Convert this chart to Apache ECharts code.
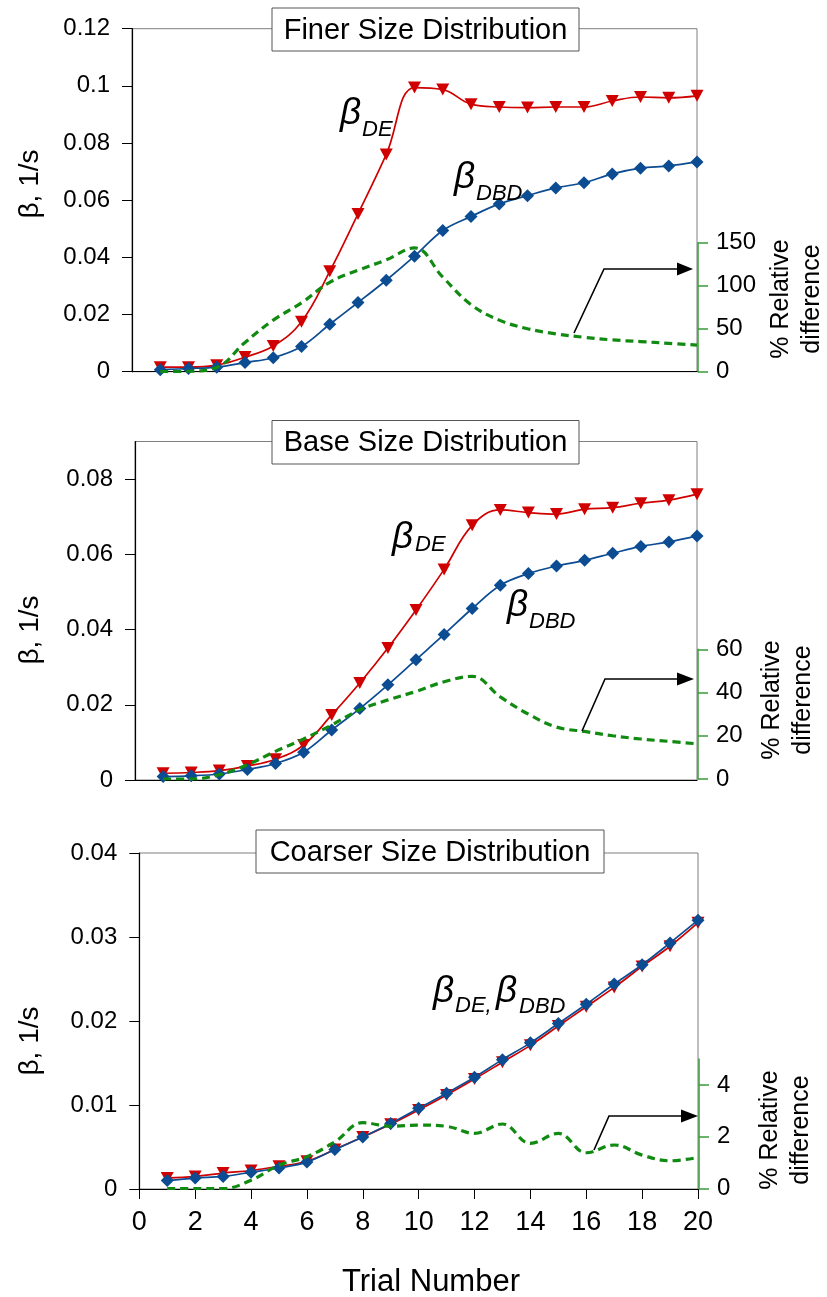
<!DOCTYPE html>
<html><head><meta charset="utf-8">
<script src="https://cdn.jsdelivr.net/npm/echarts@6/dist/echarts.min.js"></script>
<style>html,body{margin:0;padding:0;background:#fff}#c{width:827px;height:1297px}</style>
</head><body><div id="c"></div>
<script>
// ---------- data ----------
const trials = [1,2,3,4,5,6,7,8,9,10,11,12,13,14,15,16,17,18,19,20];
const xTickLabels = [0,2,4,6,8,10,12,14,16,18,20];

const finerDE  = [0.0016,0.0016,0.0023,0.0051,0.0090,0.0175,0.0351,0.0552,0.0760,0.0994,0.0987,0.0936,0.0926,0.0924,0.0926,0.0926,0.0947,0.0961,0.0958,0.0965];
const finerDBD = [0.0007,0.0011,0.0016,0.0032,0.0049,0.0088,0.0166,0.0242,0.0320,0.0404,0.0494,0.0543,0.0587,0.0616,0.0643,0.0661,0.0692,0.0712,0.0720,0.0734];
const finerDiff = [0,0.5,5,34,60,80,104,118,130,144,110,78,60,50,44,40,37,35,33,31];

const baseDE  = [0.0018,0.0020,0.0025,0.0037,0.0055,0.0093,0.0173,0.0258,0.0351,0.0452,0.0560,0.0677,0.0718,0.0711,0.0707,0.0720,0.0724,0.0736,0.0744,0.0760];
const baseDBD = [0.0009,0.0011,0.0016,0.0028,0.0044,0.0074,0.0133,0.0190,0.0253,0.0320,0.0387,0.0456,0.0518,0.0549,0.0569,0.0584,0.0603,0.0621,0.0633,0.0649];
const baseDiff = [0,0,2,6.6,12.8,18.5,25,32,36.6,40.5,45,47.5,38,30,24,22,20,18.5,17.4,16.3];

const coarserDE  = [0.0013,0.0015,0.0019,0.0022,0.0027,0.0033,0.0047,0.0062,0.0077,0.0094,0.0112,0.0131,0.0151,0.0171,0.0194,0.0217,0.0240,0.0265,0.0289,0.0317];
const coarserDBD = [0.0010,0.0013,0.0015,0.0020,0.0025,0.0032,0.0047,0.0062,0.0078,0.0096,0.0114,0.0133,0.0154,0.0174,0.0197,0.0220,0.0244,0.0267,0.0293,0.0320];
const coarserDiff = [0,0,0,0.32,0.9,1.23,1.8,2.54,2.4,2.45,2.4,2.13,2.49,1.74,2.13,1.38,1.68,1.29,1.07,1.2];

const finerLeftTicks = [0,0.02,0.04,0.06,0.08,0.1,0.12];
const finerRightTicks = [0,50,100,150];
const baseLeftTicks = [0,0.02,0.04,0.06,0.08];
const baseRightTicks = [0,20,40,60];
const coarserLeftTicks = [0,0.01,0.02,0.03,0.04];
const coarserRightTicks = [0,2,4];

const titles = ['Finer Size Distribution','Base Size Distribution','Coarser Size Distribution'];

// ---------- layout / style ----------
const FONT = '"Liberation Sans", Arial, sans-serif';
const RED = '#D00000', BLUE = '#0C4C92', GREEN = '#118A11', GAXIS = '#3A9A3A';

const panels = [
  {de: finerDE, dbd: finerDBD, diff: finerDiff, left:132, right:697, top:28.7, bottom:371.7, ymax:0.12, yTicks: finerLeftTicks,
   rTop:242.7, rBottom:371.7, rmax:150, rTicks: finerRightTicks, showX:false},
  {de: baseDE, dbd: baseDBD, diff: baseDiff, left:135, right:697, top:441.5, bottom:780, ymax:0.09, yTicks: baseLeftTicks,
   rTop:649.3, rBottom:779, rmax:60, rTicks: baseRightTicks, showX:false},
  {de: coarserDE, dbd: coarserDBD, diff: coarserDiff, left:139.3, right:698, top:853, bottom:1189, ymax:0.04, yTicks: coarserLeftTicks,
   rTop:1059, rBottom:1188.5, rmax:5, rTicks: coarserRightTicks, showX:true}
];

const grid = [], xAxis = [], yAxis = [], series = [];
panels.forEach((p, i) => {
  grid.push({left:p.left, width:p.right-p.left, top:p.top, height:p.bottom-p.top, show:true, borderColor:'#7f7f7f', borderWidth:1, backgroundColor:'transparent'});
  grid.push({left:p.left, width:p.right-p.left, top:p.rTop, height:p.rBottom-p.rTop, show:false});
  xAxis.push({gridIndex:2*i, type:'value', min:0, max:20, interval:2,
    axisLine:{show:true, onZero:false, lineStyle:{color:'#000', width:1.2}},
    axisTick:{show:p.showX, length:10, lineStyle:{color:'#000'}},
    axisLabel:{show:p.showX, fontSize:27, margin:20, color:'#000', fontFamily:FONT, customValues: xTickLabels},
    splitLine:{show:false}});
  xAxis.push({gridIndex:2*i+1, type:'value', min:0, max:20, show:false});
  yAxis.push({gridIndex:2*i, type:'value', min:0, max:p.ymax, position:'left',
    axisLine:{show:true, onZero:false, lineStyle:{color:'#000', width:1.2}},
    axisTick:{show:true, length:10, lineStyle:{color:'#000'}, customValues:p.yTicks},
    axisLabel:{fontSize:24, margin:22, color:'#000', fontFamily:FONT, customValues:p.yTicks},
    splitLine:{show:false}});
  yAxis.push({gridIndex:2*i+1, type:'value', min:0, max:p.rmax, position:'right', offset:1,
    axisLine:{show:true, onZero:false, lineStyle:{color:GAXIS, width:1.5}},
    axisTick:{show:true, length:10, lineStyle:{color:GAXIS, width:1.5}, customValues:p.rTicks},
    axisLabel:{fontSize:24, margin:18, color:'#000', fontFamily:FONT, customValues:p.rTicks},
    splitLine:{show:false}});
  series.push({type:'line', xAxisIndex:2*i, yAxisIndex:2*i, data: trials.map((t,k)=>[t,p.de[k]]),
    smooth:0.4, symbol:'triangle', symbolRotate:180, symbolSize:[13,12], showSymbol:true,
    lineStyle:{color:RED, width:1.7}, itemStyle:{color:RED}, z:3});
  series.push({type:'line', xAxisIndex:2*i, yAxisIndex:2*i, data: trials.map((t,k)=>[t,p.dbd[k]]),
    smooth:0.35, symbol:'diamond', symbolSize:13, showSymbol:true,
    lineStyle:{color:BLUE, width:1.7}, itemStyle:{color:BLUE}, z:4});
  series.push({type:'line', xAxisIndex:2*i+1, yAxisIndex:2*i+1, data: trials.map((t,k)=>[t,p.diff[k]]),
    smooth:0.4, symbol:'none', showSymbol:false,
    lineStyle:{color:GREEN, width:3.2, type:[8,5]}, z:5});
});

function txt(x, y, text, size, opts) {
  opts = opts || {};
  return {type:'text', x:x, y:y, rotation: opts.rot || 0, z:100,
    style:{text:text, fontSize:size, fontFamily:FONT, fontStyle: opts.italic ? 'italic' : 'normal',
      fill:'#000', align: opts.align || 'center', verticalAlign:'middle',
      textAlign: opts.align || 'center', textVerticalAlign:'middle', lineHeight: opts.lh || size}};
}
function titleBox(x, y, w, h, text) {
  return [{type:'rect', z:99, shape:{x:x, y:y, width:w, height:h}, style:{fill:'#fff', stroke:'#555', lineWidth:1}},
          txt(x + w/2, y + h/2 + 1, text, 29)];
}
function arrow(pts, head) {
  return [{type:'polyline', z:100, shape:{points:pts}, style:{stroke:'#000', lineWidth:1.6, fill:null}},
          {type:'polygon', z:100, shape:{points:head}, style:{fill:'#000'}}];
}
const R = Math.PI/2;
const graphic = [].concat(
  titleBox(272, 8, 307, 43, titles[0]),
  titleBox(272, 420.5, 307, 43.5, titles[1]),
  titleBox(256, 830, 348, 43, titles[2]),
  // y axis names
  [txt(30, 184, 'β, 1/s', 28, {rot:R}), txt(30, 630, 'β, 1/s', 28, {rot:R}), txt(30, 1041, 'β, 1/s', 28, {rot:R})],
  // right axis names
  [txt(797, 299, '% Relative\ndifference', 25, {rot:R, lh:31}),
   txt(788, 700, '% Relative\ndifference', 25, {rot:R, lh:31}),
   txt(786, 1130, '% Relative\ndifference', 25, {rot:R, lh:31})],
  // x axis name
  [txt(431, 1282, 'Trial Number', 31)],
  // beta annotations
  [txt(340, 114, 'β', 37, {italic:true, align:'left'}), txt(362, 130, 'DE', 22, {italic:true, align:'left'}),
   txt(454, 178, 'β', 37, {italic:true, align:'left'}), txt(476, 194, 'DBD', 22, {italic:true, align:'left'}),
   txt(392, 538, 'β', 37, {italic:true, align:'left'}), txt(415, 545, 'DE', 22, {italic:true, align:'left'}),
   txt(507, 606, 'β', 37, {italic:true, align:'left'}), txt(529, 622, 'DBD', 22, {italic:true, align:'left'}),
   txt(433, 992, 'β', 37, {italic:true, align:'left'}), txt(455, 1006, 'DE,', 22, {italic:true, align:'left'}),
   txt(496, 992, 'β', 37, {italic:true, align:'left'}), txt(519, 1007, 'DBD', 22, {italic:true, align:'left'})],
  arrow([[574,333],[604,269],[680,269]], [[677,262.5],[693,269],[677,275.5]]),
  arrow([[582,731],[605,679],[680,679]], [[677,672.5],[694,679],[677,685.5]]),
  arrow([[594,1150],[609,1116],[684,1116]], [[681,1109.5],[698,1116],[681,1122.5]])
);

const chart = echarts.init(document.getElementById('c'), null, {renderer:'canvas'});
chart.setOption({
  animation:false,
  backgroundColor:'#fff',
  textStyle:{fontFamily:FONT},
  grid, xAxis, yAxis, series, graphic
});
</script></body></html>
